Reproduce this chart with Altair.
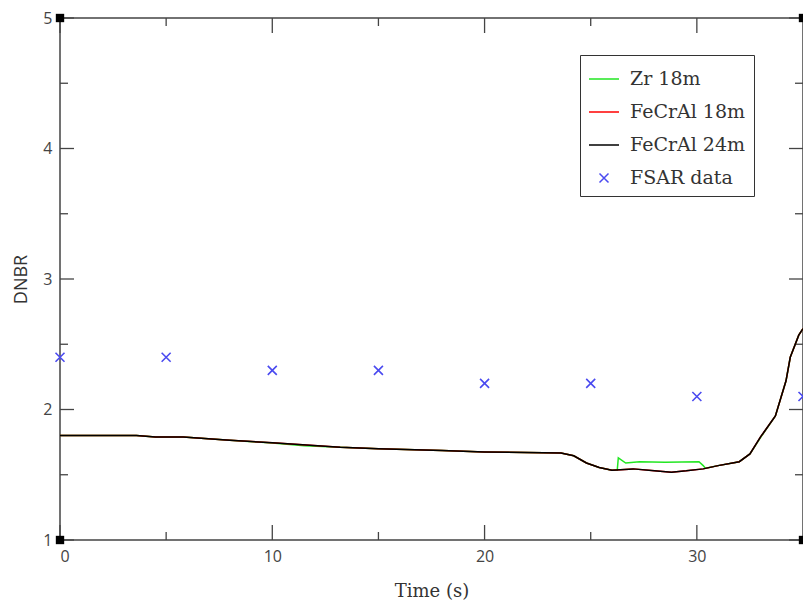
import altair as alt
import pandas as pd

# ---- data ----
series_names = ["Zr 18m", "FeCrAl 18m", "FeCrAl 24m", "FSAR data"]
series_colors = ["#22e622", "#ff0000", "#000000", "#4a4af0"]

fecral24_t = [0, 3.6, 4.5, 5.8, 8, 10, 13.2, 15, 18, 20, 23.6, 24.2, 24.8, 25.4, 26.0,
              27.0, 28.0, 28.8, 29.5, 30.3, 31.0, 32.0, 32.5, 33.0, 33.7, 34.2, 34.4, 34.8, 35.0]
fecral24_v = [1.80, 1.80, 1.79, 1.79, 1.765, 1.745, 1.71, 1.70, 1.685, 1.675, 1.667, 1.645, 1.59, 1.555, 1.535,
              1.545, 1.53, 1.52, 1.53, 1.545, 1.57, 1.60, 1.66, 1.79, 1.95, 2.22, 2.40, 2.57, 2.62]

fecral18_t = fecral24_t
fecral18_v = fecral24_v

zr_t = [0, 3.6, 4.5, 5.8, 8, 10, 11.5, 13.2, 15, 18, 20, 23.6, 24.2, 24.8, 25.4, 26.0, 26.25,
        26.3, 26.65, 27.3, 28.5, 30.1, 30.3, 30.4, 31.0, 32.0, 32.5, 33.0, 33.7, 34.2, 34.4, 34.8, 35.0]
zr_v = [1.80, 1.80, 1.79, 1.79, 1.765, 1.743, 1.722, 1.71, 1.70, 1.685, 1.675, 1.667, 1.645, 1.59, 1.555, 1.535, 1.535,
        1.63, 1.59, 1.60, 1.595, 1.60, 1.57, 1.55, 1.57, 1.60, 1.66, 1.785, 1.95, 2.22, 2.40, 2.57, 2.62]

fsar_t = [0, 5, 10, 15, 20, 25, 30, 35]
fsar_v = [2.4, 2.4, 2.3, 2.3, 2.2, 2.2, 2.1, 2.1]

x_major = [0, 10, 20, 30]
x_minor = [5, 15, 25]
y_major = [1, 2, 3, 4, 5]
y_minor = [1.5, 2.5, 3.5, 4.5]
corner_t = [0, 0, 35, 35]
corner_v = [1, 5, 1, 5]

W, H = 743, 522

lines_df = pd.concat([
    pd.DataFrame({"time": zr_t, "dnbr": zr_v, "series": "Zr 18m", "order": 0}),
    pd.DataFrame({"time": fecral18_t, "dnbr": fecral18_v, "series": "FeCrAl 18m", "order": 1}),
    pd.DataFrame({"time": fecral24_t, "dnbr": fecral24_v, "series": "FeCrAl 24m", "order": 2}),
], ignore_index=True)
fsar_df = pd.DataFrame({"time": fsar_t, "dnbr": fsar_v, "series": "FSAR data"})

xscale = alt.Scale(domain=[0, 35], nice=False, zero=False)
yscale = alt.Scale(domain=[1, 5], nice=False, zero=False)
cscale = alt.Scale(domain=series_names, range=series_colors)
line_path = "M-1,0L1,0"
cross_path = "M-0.3,-0.3L0.3,0.3M-0.3,0.3L0.3,-0.3"
sscale = alt.Scale(domain=series_names, range=[line_path, line_path, line_path, cross_path])

leg = alt.Legend(title=None, orient="none", legendX=520, legendY=37, padding=8,
                 strokeColor="#333", fillColor="white", labelFont="DejaVu Serif",
                 labelFontSize=19, labelColor="#333", symbolSize=900, rowPadding=7,
                 labelOffset=10, symbolStrokeWidth=1.5, symbolOpacity=1)

xaxis = alt.Axis(values=x_major, ticks=False, domain=False, grid=False, labelFont="Open Sans",
                 labelFontSize=16, labelColor="#444", labelPadding=8, title="Time (s)",
                 titleFont="DejaVu Serif", titleFontSize=18, titleFontWeight="normal",
                 titleColor="#333", titlePadding=18, format="d")
yaxis = alt.Axis(values=y_major, ticks=False, domain=False, grid=False, labelFont="Open Sans",
                 labelFontSize=16, labelColor="#444", labelPadding=8, title="DNBR",
                 titleFont="Open Sans", titleFontSize=18, titleFontWeight="normal",
                 titleColor="#333", titlePadding=12, format="d")

lines = alt.Chart(lines_df).mark_line(strokeWidth=1.5).encode(
    x=alt.X("time:Q", scale=xscale, axis=xaxis),
    y=alt.Y("dnbr:Q", scale=yscale, axis=yaxis),
    color=alt.Color("series:N", scale=cscale, legend=leg),
    detail="series:N",
    order="order:Q",
)

points = alt.Chart(fsar_df).mark_point(filled=False, size=900, strokeWidth=1.6, opacity=1).encode(
    x=alt.X("time:Q", scale=xscale),
    y=alt.Y("dnbr:Q", scale=yscale),
    color=alt.Color("series:N", scale=cscale, legend=leg),
    shape=alt.Shape("series:N", scale=sscale, legend=leg),
)

tick_color = "#444"
ymaj = pd.DataFrame({"dnbr": y_major})
ymin = pd.DataFrame({"dnbr": y_minor})
xmaj = pd.DataFrame({"time": x_major})
xmin = pd.DataFrame({"time": x_minor})

def yticks(df, length, side):
    if side == "left":
        xa, xb = 0, length
    else:
        xa, xb = W - length, W
    return alt.Chart(df).mark_rule(color=tick_color, strokeWidth=1.3).encode(
        y=alt.Y("dnbr:Q", scale=yscale), x=alt.value(xa), x2=alt.value(xb))

def xticks(df, length, side):
    if side == "top":
        ya, yb = 0, length
    else:
        ya, yb = H - length, H
    return alt.Chart(df).mark_rule(color=tick_color, strokeWidth=1.3).encode(
        x=alt.X("time:Q", scale=xscale), y=alt.value(ya), y2=alt.value(yb))

tick_layers = [
    yticks(ymaj, 14, "left"), yticks(ymin, 8, "left"),
    yticks(ymaj, 14, "right"), yticks(ymin, 8, "right"),
    xticks(xmaj, 15, "top"), xticks(xmin, 8, "top"),
    xticks(xmaj, 15, "bottom"), xticks(xmin, 8, "bottom"),
]

corners = alt.Chart(pd.DataFrame({"time": corner_t, "dnbr": corner_v})).mark_square(
    size=70, color="black", opacity=1).encode(
    x=alt.X("time:Q", scale=xscale), y=alt.Y("dnbr:Q", scale=yscale))

chart = alt.layer(*tick_layers, lines, points, corners).properties(
    width=W, height=H,
    autosize=alt.AutoSizeParams(type="none"),
    padding={"left": 60, "top": 18, "right": 0, "bottom": 65},
    background="white",
).configure_view(stroke="#444", strokeWidth=1.5)

chart.save("out.html", embed_options={"renderer": "svg", "actions": False})
